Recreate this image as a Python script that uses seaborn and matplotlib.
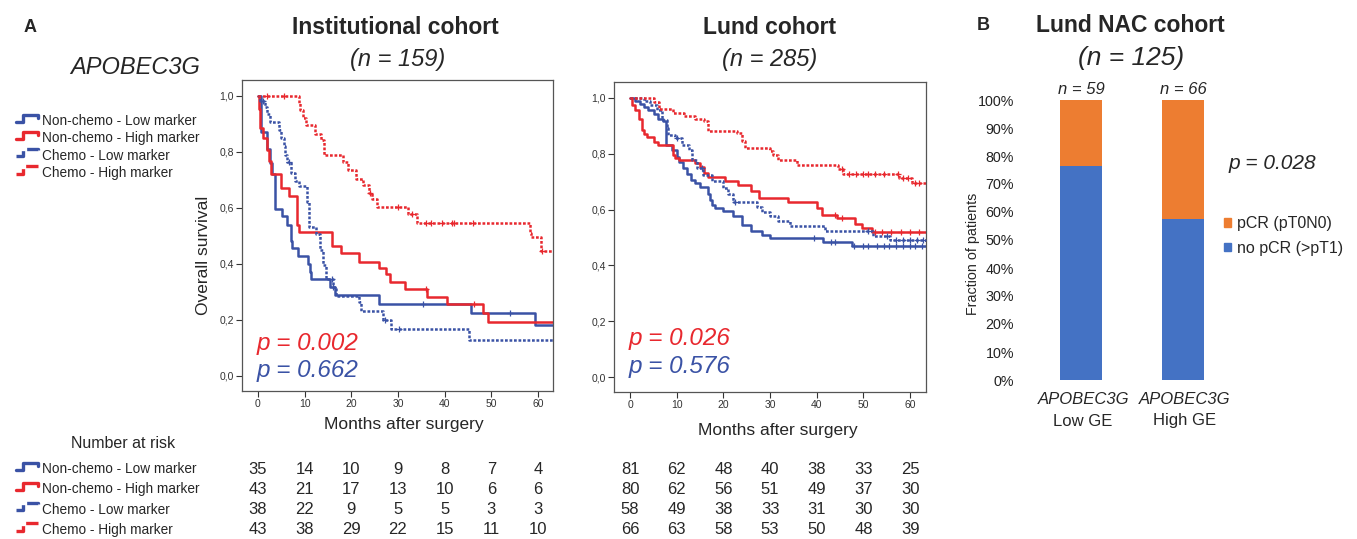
import numpy as np
import pandas as pd
import matplotlib
matplotlib.use("Agg")
import matplotlib.pyplot as plt
import matplotlib.transforms as mtransforms
from matplotlib.lines import Line2D
from matplotlib.patches import Patch
from matplotlib.legend_handler import HandlerBase
from matplotlib.ticker import PercentFormatter, MultipleLocator
import seaborn as sns

# ---------------- data ----------------
groups = ["Non-chemo - Low marker", "Non-chemo - High marker",
          "Chemo - Low marker", "Chemo - High marker"]

# Institutional cohort KM steps
inst_ncl_t = [0, 0.6, 2.0, 2.5, 3.0, 3.6, 5.2, 6.3, 7.0, 7.3, 8.6, 10.8, 11.1, 11.4, 15.4, 16.6, 26.0, 45.6, 59.3, 63.2]
inst_ncl_s = [1.0, 0.87, 0.81, 0.76, 0.72, 0.595, 0.57, 0.54, 0.48, 0.455, 0.428, 0.40, 0.372, 0.344, 0.318, 0.287, 0.258, 0.226, 0.18, 0.18]
inst_nch_t = [0, 0.3, 0.5, 1.0, 2.0, 2.4, 2.9, 4.9, 6.7, 8.3, 8.8, 15.9, 17.9, 21.6, 25.9, 27.5, 28.4, 31.4, 36.2, 40.5, 48.2, 49.2, 63.2]
inst_nch_s = [1.0, 0.953, 0.884, 0.85, 0.806, 0.767, 0.72, 0.671, 0.643, 0.54, 0.514, 0.464, 0.437, 0.407, 0.386, 0.362, 0.336, 0.31, 0.283, 0.256, 0.223, 0.194, 0.194]
inst_cl_t = [0, 0.5, 1.5, 2.0, 2.6, 4.5, 5.0, 5.5, 5.9, 6.2, 7.2, 8.0, 8.8, 10.5, 11.0, 12.5, 13.3, 14.0, 14.5, 16.0, 16.8, 21.7, 22.0, 26.9, 28.6, 45.3, 63.2]
inst_cl_s = [1.0, 0.98, 0.96, 0.935, 0.905, 0.877, 0.85, 0.82, 0.79, 0.762, 0.725, 0.695, 0.677, 0.621, 0.532, 0.508, 0.449, 0.395, 0.344, 0.318, 0.286, 0.264, 0.231, 0.2, 0.169, 0.127, 0.127]
inst_ch_t = [0, 8.8, 9.1, 9.6, 10.3, 12.3, 13.6, 14.2, 18.2, 19.2, 21.1, 22.5, 23.9, 24.5, 25.5, 32.2, 34.0, 58.2, 58.5, 60.6, 63.2]
inst_ch_s = [1.0, 0.975, 0.95, 0.92, 0.895, 0.865, 0.842, 0.789, 0.762, 0.735, 0.701, 0.683, 0.651, 0.631, 0.604, 0.576, 0.544, 0.51, 0.497, 0.446, 0.446]
inst_ncl_c = [16.0, 35.3, 54.0]
inst_nch_c = [36.0, 46.2]
inst_cl_c = [1.0, 6.6, 15.8, 27.3, 30.3]
inst_ch_c = [2.0, 5.5, 24.0, 30.0, 33.0, 36.0, 37.0, 39.5, 41.5, 42.0, 46.0, 60.8]

# Lund cohort KM steps
lund_ncl_t = [0, 1.1, 2.1, 2.9, 3.9, 5.1, 6.1, 7.0, 7.7, 8.9, 10.0, 10.6, 11.4, 12.1, 13.0, 13.9, 15.0, 16.8, 17.1, 17.6, 18.2, 19.9, 22.0, 23.9, 26.0, 28.2, 30.0, 41.4, 47.5, 63.4]
lund_ncl_s = [1.0, 0.99, 0.98, 0.968, 0.955, 0.943, 0.925, 0.916, 0.833, 0.815, 0.79, 0.772, 0.749, 0.728, 0.707, 0.695, 0.681, 0.656, 0.636, 0.618, 0.606, 0.594, 0.576, 0.546, 0.522, 0.51, 0.498, 0.484, 0.468, 0.468]
lund_nch_t = [0, 0.4, 1.1, 1.9, 2.5, 3.0, 3.7, 5.1, 6.1, 9.3, 9.6, 10.4, 13.9, 15.0, 15.9, 16.8, 20.4, 23.2, 26.0, 27.6, 33.9, 40.0, 41.1, 44.3, 48.2, 49.6, 51.8, 63.4]
lund_nch_s = [1.0, 0.975, 0.955, 0.925, 0.886, 0.87, 0.86, 0.841, 0.832, 0.797, 0.785, 0.777, 0.767, 0.753, 0.731, 0.716, 0.704, 0.689, 0.668, 0.642, 0.627, 0.606, 0.582, 0.569, 0.547, 0.534, 0.52, 0.52]
lund_cl_t = [0, 2.9, 4.3, 5.7, 6.8, 7.9, 8.2, 9.6, 11.1, 12.7, 13.2, 14.3, 15.7, 17.5, 20.0, 21.0, 22.0, 27.1, 28.2, 30.0, 31.8, 34.3, 41.8, 52.1, 55.7, 63.4]
lund_cl_s = [1.0, 0.99, 0.976, 0.955, 0.922, 0.893, 0.869, 0.857, 0.833, 0.815, 0.779, 0.749, 0.725, 0.701, 0.677, 0.657, 0.626, 0.608, 0.59, 0.578, 0.558, 0.54, 0.522, 0.504, 0.492, 0.48]
lund_ch_t = [0, 5.2, 6.2, 9.3, 11.6, 13.9, 15.9, 16.8, 22.9, 23.9, 24.6, 30.0, 30.7, 31.8, 35.7, 44.6, 45.7, 57.6, 60.5, 63.4]
lund_ch_s = [1.0, 0.984, 0.962, 0.946, 0.934, 0.926, 0.916, 0.883, 0.874, 0.845, 0.821, 0.809, 0.797, 0.777, 0.761, 0.746, 0.729, 0.714, 0.695, 0.695]
lund_ncl_c = [39.5, 43, 44, 48, 50, 51, 53, 54.5, 55.5, 57, 58.5, 60, 61, 62.5]
lund_nch_c = [44, 45.5, 52.5, 54, 56, 58, 60, 62]
lund_cl_c = [10, 15.5, 22.5, 51, 55, 57, 58.5, 60, 61.5, 62.8]
lund_ch_c = [45.5, 47, 48.5, 50, 51, 52.5, 54.5, 57.5, 58.5, 59.5, 61, 62]

# Number at risk (0, 10, ..., 60 months)
risk_times = [0, 10, 20, 30, 40, 50, 60]
inst_risk = [[35, 14, 10, 9, 8, 7, 4],
             [43, 21, 17, 13, 10, 6, 6],
             [38, 22, 9, 5, 5, 3, 3],
             [43, 38, 29, 22, 15, 11, 10]]
lund_risk = [[81, 62, 48, 40, 38, 33, 25],
             [80, 62, 56, 51, 49, 37, 30],
             [58, 49, 38, 33, 31, 30, 30],
             [66, 63, 58, 53, 50, 48, 39]]

# Lund NAC cohort bar chart
bar_cats = ["Low GE", "High GE"]
bar_n = [59, 66]
no_pcr_frac = [0.763, 0.576]
pcr_frac = [0.237, 0.424]

# ---------------- style ----------------
sns.set_theme(style="white")
plt.rcParams["font.family"] = ["Liberation Sans", "DejaVu Sans"]

RED = "#E8282E"
BLUE = "#3A52A5"
ORANGE = "#ED7D31"
BBLUE = "#4472C4"
DOT = (0, (1.1, 0.7))

W, H = 1357, 539
fig = plt.figure(figsize=(W / 100, H / 100), dpi=100)


def P(x, y):
    return x / W, 1 - y / H


def step_at(t, times, vals):
    idx = np.searchsorted(times, t, side="right") - 1
    return np.asarray(vals)[idx]


def km_axes(rect, curves, xlim, ylim):
    ax = fig.add_axes(rect)
    for (t, s, c, col, ls) in curves:
        df = pd.DataFrame({"t": t, "s": s})
        sns.lineplot(data=df, x="t", y="s", ax=ax, drawstyle="steps-post",
                     color=col, linestyle=ls, linewidth=1.8, estimator=None,
                     sort=False, legend=False)
        cdf = pd.DataFrame({"t": c, "s": step_at(c, t, s)})
        sns.scatterplot(data=cdf, x="t", y="s", ax=ax, marker="+", s=24,
                        color=col, linewidth=0.9, legend=False, zorder=3)
    ax.set_xlim(*xlim)
    ax.set_ylim(*ylim)
    ax.set_xticks(risk_times)
    ax.set_yticks([0, 0.2, 0.4, 0.6, 0.8, 1.0])
    ax.set_yticklabels(["0,0", "0,2", "0,4", "0,6", "0,8", "1,0"])
    ax.tick_params(axis="both", which="both", direction="out", length=4,
                   width=0.8, colors="#333333", labelsize=7.5, pad=2,
                   bottom=True, left=True, top=False, right=False)
    for sp in ax.spines.values():
        sp.set_color("#555555")
        sp.set_linewidth(0.9)
        sp.set_visible(True)
    ax.set_xlabel("")
    ax.set_ylabel("")
    return ax


ax1 = km_axes([242 / W, 1 - 391 / H, 311 / W, 311 / H],
              [(inst_ncl_t, inst_ncl_s, inst_ncl_c, BLUE, "-"),
               (inst_nch_t, inst_nch_s, inst_nch_c, RED, "-"),
               (inst_cl_t, inst_cl_s, inst_cl_c, BLUE, DOT),
               (inst_ch_t, inst_ch_s, inst_ch_c, RED, DOT)],
              (-3.4, 63.2), (-0.054, 1.056))
ax2 = km_axes([614 / W, 1 - 392 / H, 312 / W, 310 / H],
              [(lund_ncl_t, lund_ncl_s, lund_ncl_c, BLUE, "-"),
               (lund_nch_t, lund_nch_s, lund_nch_c, RED, "-"),
               (lund_cl_t, lund_cl_s, lund_cl_c, BLUE, DOT),
               (lund_ch_t, lund_ch_s, lund_ch_c, RED, DOT)],
              (-3.43, 63.4), (-0.053, 1.057))

# p-values inside KM panels
ax1.text(0.047, 0.154, "p = 0.002", transform=ax1.transAxes, color=RED,
         fontsize=17.5, style="italic", va="center", ha="left")
ax1.text(0.047, 0.065, "p = 0.662", transform=ax1.transAxes, color=BLUE,
         fontsize=17.5, style="italic", va="center", ha="left")
ax2.text(0.048, 0.174, "p = 0.026", transform=ax2.transAxes, color=RED,
         fontsize=17.5, style="italic", va="center", ha="left")
ax2.text(0.048, 0.081, "p = 0.576", transform=ax2.transAxes, color=BLUE,
         fontsize=17.5, style="italic", va="center", ha="left")

# axis labels
fig.text(*P(203, 255), "Overall survival", rotation=90, ha="center",
         va="center", fontsize=12.5)
fig.text(*P(404, 425), "Months after surgery", ha="center", va="center",
         fontsize=12.5)
fig.text(*P(778, 430), "Months after surgery", ha="center", va="center",
         fontsize=12.5)

# titles
fig.text(*P(30, 27), "A", ha="center", va="center", fontsize=13, weight="bold")
fig.text(*P(983, 25), "B", ha="center", va="center", fontsize=13, weight="bold")
fig.text(*P(395, 28), "Institutional cohort", ha="center", va="center",
         fontsize=16.5, weight="bold")
fig.text(*P(398, 60), "(n = 159)", ha="center", va="center", fontsize=17,
         style="italic")
fig.text(*P(770, 28), "Lund cohort", ha="center", va="center",
         fontsize=16.5, weight="bold")
fig.text(*P(770, 60), "(n = 285)", ha="center", va="center", fontsize=17,
         style="italic")
fig.text(*P(1130, 26), "Lund NAC cohort", ha="center", va="center",
         fontsize=16.5, weight="bold")
fig.text(*P(1131, 58), "(n = 125)", ha="center", va="center", fontsize=19,
         style="italic")
fig.text(*P(135, 67), "APOBEC3G", ha="center", va="center", fontsize=17,
         style="italic")


# legend with step icons
class StepHandler(HandlerBase):
    def create_artists(self, legend, orig_handle, xdescent, ydescent, width,
                       height, fontsize, trans):
        x0, y0 = -xdescent, -ydescent
        xs = [x0, x0 + 0.3 * width, x0 + 0.3 * width, x0 + 0.97 * width,
              x0 + 0.97 * width]
        ys = [y0 + 0.35 * height, y0 + 0.35 * height, y0 + 1.05 * height,
              y0 + 1.05 * height, y0 + 0.7 * height]
        ln = Line2D(xs, ys, color=orig_handle.get_color(),
                    linestyle=orig_handle.get_linestyle(), linewidth=2.4)
        ln.set_transform(trans)
        return [ln]


handles = [Line2D([], [], color=BLUE, ls="-"), Line2D([], [], color=RED, ls="-"),
           Line2D([], [], color=BLUE, ls=(0, (0.65, 0.45))),
           Line2D([], [], color=RED, ls=(0, (0.65, 0.45)))]
common = dict(handler_map={Line2D: StepHandler()}, loc="upper left",
              frameon=False, fontsize=9.8, handlelength=1.7, handleheight=0.8,
              handletextpad=0.2, borderpad=0, borderaxespad=0)
fig.legend(handles, groups, bbox_to_anchor=P(16, 114), labelspacing=0.24,
           **common)
fig.legend(handles, groups, bbox_to_anchor=P(16, 462), labelspacing=0.46,
           **common)
fig.text(*P(123, 444), "Number at risk", ha="center", va="center", fontsize=11.5)

# number at risk tables
row_y = [470, 490, 510, 530]
for ax, table in [(ax1, inst_risk), (ax2, lund_risk)]:
    tr = mtransforms.blended_transform_factory(ax.transData, fig.transFigure)
    for r, row in enumerate(table):
        for tt, v in zip(risk_times, row):
            ax.text(tt, 1 - row_y[r] / H, str(v), transform=tr, ha="center",
                    va="center", fontsize=12, clip_on=False)

# ---------------- bar chart ----------------
ax3 = fig.add_axes([1025 / W, 1 - 380 / H, 214 / W, 280 / H])
bdf = pd.DataFrame({"cat": bar_cats,
                    "total": np.array(no_pcr_frac) + np.array(pcr_frac),
                    "nopcr": no_pcr_frac})
sns.barplot(data=bdf, x="cat", y="total", ax=ax3, color=ORANGE, width=0.41,
            saturation=1, errorbar=None, linewidth=0)
sns.barplot(data=bdf, x="cat", y="nopcr", ax=ax3, color=BBLUE, width=0.41,
            saturation=1, errorbar=None, linewidth=0)
ax3.set_xlim(-0.55, 1.55)
ax3.set_ylim(0, 1.0)
ax3.yaxis.set_major_locator(MultipleLocator(0.1))
ax3.yaxis.set_major_formatter(PercentFormatter(1.0, decimals=0))
ax3.tick_params(axis="y", length=0, pad=8, labelsize=10.3, colors="#222222")
ax3.set_xticks([0, 1])
ax3.set_xticklabels(["", ""])
ax3.tick_params(axis="x", length=0)
ax3.set_xlabel("")
ax3.set_ylabel("")
for sp in ax3.spines.values():
    sp.set_visible(False)
ax3.grid(False)
trb = mtransforms.blended_transform_factory(ax3.transData, fig.transFigure)
for i, (cat, n) in enumerate(zip(bar_cats, bar_n)):
    ax3.text(i, 1 - 90 / H, f"n = {n}", transform=trb, ha="center",
             va="center", fontsize=12, style="italic")
    ax3.text(i + 0.02, 1 - 400 / H, "APOBEC3G", transform=trb, ha="center",
             va="center", fontsize=12, style="italic")
    ax3.text(i + 0.02, 1 - 421 / H, cat, transform=trb, ha="center",
             va="center", fontsize=12)
fig.text(*P(973, 254), "Fraction of patients", rotation=90, ha="center",
         va="center", fontsize=10.3)
fig.text(*P(1229, 163), "p = 0.028", ha="left", va="center", fontsize=15,
         style="italic")
ax3.legend(handles=[Patch(color=ORANGE), Patch(color=BBLUE)],
           labels=["pCR (pT0N0)", "no pCR (>pT1)"], loc="upper left",
           bbox_to_anchor=P(1224, 216), bbox_transform=fig.transFigure,
           frameon=False, fontsize=11.5, handlelength=0.45, handleheight=0.45,
           handletextpad=0.35, labelspacing=0.6, borderpad=0, borderaxespad=0)

fig.savefig("out.png", dpi=100)
